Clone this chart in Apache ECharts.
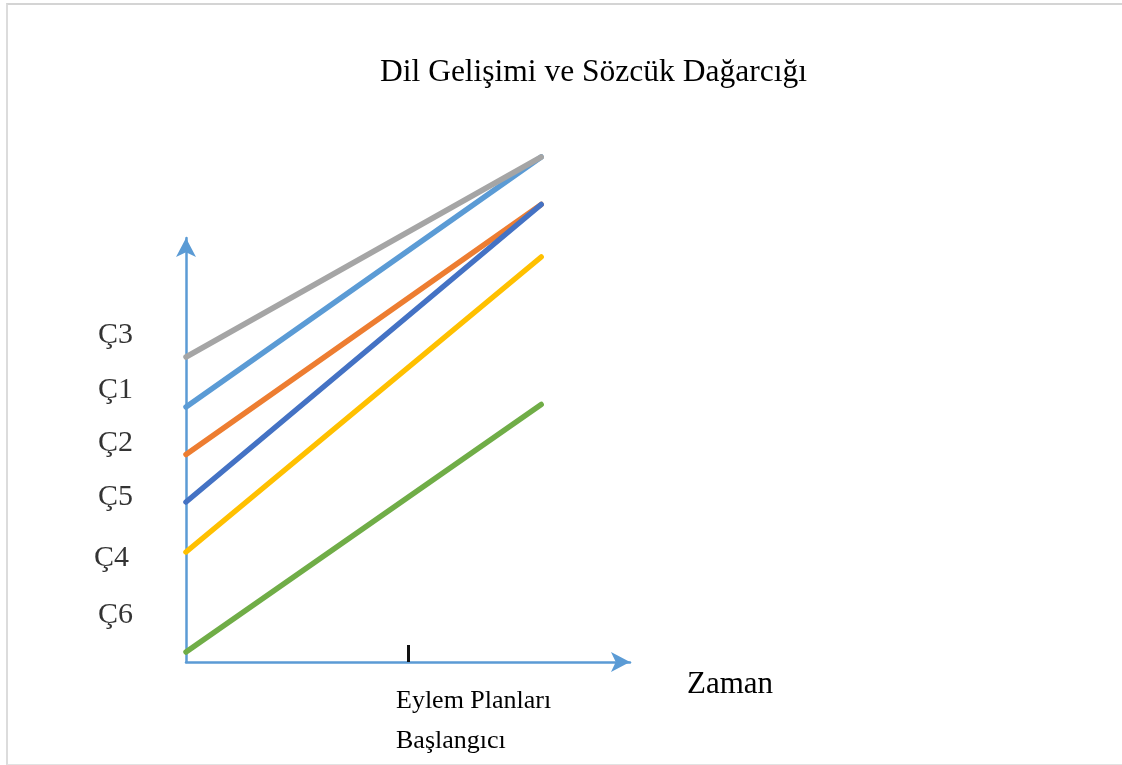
<!DOCTYPE html>
<html>
<head>
<meta charset="utf-8">
<script src="https://cdn.jsdelivr.net/npm/echarts@6/dist/echarts.min.js"></script>
<style>
  html, body { margin: 0; padding: 0; background: #fff; }
  #main { width: 1122px; height: 765px; }
  #frame {
    position: absolute; left: 6px; top: 3px; width: 1116px; height: 759px;
    border-left: 2px solid #dcdcdc; border-top: 2px solid #d4d4d4; border-bottom: 1px solid #e2e2e2;
    pointer-events: none;
  }
</style>
</head>
<body>
<div id="main"></div>
<div id="frame"></div>
<script>
// çocuklar (series) ve başlangıç / bitiş değerleri
const seriesNames = ['Ç1', 'Ç3', 'Ç2', 'Ç5', 'Ç4', 'Ç6'];
const seriesColors = ['#5B9BD5', '#A5A5A5', '#ED7D31', '#4472C4', '#FFC000', '#70AD47'];
const timePoints = [0, 8];
const startValues = [51, 61, 41.5, 32, 22, 2];
const endValues = [101, 101, 91.5, 91.5, 81, 51.5];

// sol taraftaki etiketler
const labelNames = ['Ç3', 'Ç1', 'Ç2', 'Ç5', 'Ç4', 'Ç6'];
const labelX = [-1.98, -1.98, -1.98, -1.98, -2.07, -1.98];
const labelY = [65.4, 54.4, 43.8, 33, 20.8, 9.4];

// x ekseni işareti
const tickValues = [5];
const tickLabel = 'Eylem Planları\nBaşlangıcı';

const serif = '"Liberation Serif", "Times New Roman", serif';

const lineSeries = seriesNames.map((name, i) => ({
  name: name,
  type: 'line',
  symbol: 'none',
  clip: false,
  silent: true,
  lineStyle: { color: seriesColors[i], width: 5.5, cap: 'round' },
  data: timePoints.map((t, j) => [t, j === 0 ? startValues[i] : endValues[i]])
}));

const labelSeries = {
  type: 'scatter',
  symbolSize: 0,
  clip: false,
  silent: true,
  label: {
    show: true,
    position: 'right',
    distance: 0,
    formatter: p => p.name,
    fontFamily: serif,
    fontSize: 30,
    color: '#000',
    verticalAlign: 'middle'
  },
  data: labelNames.map((n, i) => ({ name: n, value: [labelX[i], labelY[i]] }))
};

const option = {
  animation: false,
  backgroundColor: '#fff',
  title: {
    text: 'Dil Gelişimi ve Sözcük Dağarcığı',
    left: 375,
    top: 52,
    textStyle: { fontFamily: serif, fontSize: 31.5, fontWeight: 'normal', color: '#000' }
  },
  grid: { left: 186, right: 492, top: 238, bottom: 103 },
  xAxis: {
    type: 'value',
    min: 0,
    max: 10,
    splitLine: { show: false },
    axisLine: {
      show: true,
      symbol: ['none', 'arrow'],
      symbolSize: [15, 19],
      lineStyle: { color: '#5B9BD5', width: 2.5 }
    },
    axisTick: {
      show: true,
      customValues: tickValues,
      inside: true,
      length: 17,
      lineStyle: { color: '#111', width: 3 }
    },
    axisLabel: {
      customValues: tickValues,
      formatter: () => tickLabel,
      align: 'left',
      verticalAlign: 'top',
      margin: 19,
      padding: [0, 0, 0, -12],
      lineHeight: 40,
      fontFamily: serif,
      fontSize: 26,
      color: '#000'
    },
    name: 'Zaman',
    nameLocation: 'end',
    nameGap: 57,
    nameTextStyle: {
      fontFamily: serif, fontSize: 31, color: '#000',
      align: 'left', verticalAlign: 'top', padding: [7, 0, 0, 0]
    }
  },
  yAxis: {
    type: 'value',
    min: 0,
    max: 84.8,
    splitLine: { show: false },
    axisTick: { show: false },
    axisLabel: { show: false },
    axisLine: {
      show: true,
      symbol: ['none', 'arrow'],
      symbolSize: [15, 19],
      lineStyle: { color: '#5B9BD5', width: 2.5 }
    }
  },
  series: lineSeries.concat([labelSeries])
};

const chart = echarts.init(document.getElementById('main'));
chart.setOption(option);
</script>
</body>
</html>
